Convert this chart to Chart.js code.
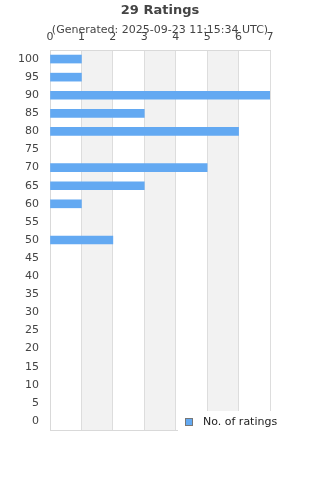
<!DOCTYPE html>
<html>
<head>
<meta charset="utf-8">
<script src="https://cdn.jsdelivr.net/npm/chart.js@4"></script>
<style>
  html, body { margin: 0; padding: 0; background: #fff; }
  #wrap { width: 320px; height: 480px; }
</style>
</head>
<body>
<div id="wrap"><canvas id="ratings"></canvas></div>
<script>
let scores = ['100', '95', '90', '85', '80', '75', '70', '65', '60', '55', '50',
              '45', '40', '35', '30', '25', '20', '15', '10', '5', '0'];
let counts = [1, 1, 7, 3, 6, 0, 5, 3, 1, 0, 2, 0, 0, 0, 0, 0, 0, 0, 0, 0, 0];
let seriesName = 'No. of ratings';
let titleText = '29 Ratings';
let subtitleText = '(Generated: 2025-09-23 11:15:34 UTC)';

Chart.defaults.font.family = "'DejaVu Sans', sans-serif";
Chart.defaults.color = '#444';

// grey bands between every other x tick, plus the frame
const bands = {
    id: 'bands',
    beforeDraw(chart) {
        let ctx = chart.ctx;
        let area = chart.chartArea;
        let x = chart.scales.x;
        ctx.save();
        ctx.fillStyle = '#f2f2f2';
        for (let v = 1; v < x.max; v += 2) {
            let a = x.getPixelForValue(v);
            let b = x.getPixelForValue(v + 1);
            ctx.fillRect(a, area.top, b - a, area.bottom - area.top);
        }
        ctx.restore();
    },
    afterDraw(chart) {
        let ctx = chart.ctx;
        let area = chart.chartArea;
        ctx.save();
        ctx.strokeStyle = '#d9d9d9';
        ctx.lineWidth = 1;
        ctx.beginPath();
        ctx.moveTo(area.left, area.bottom + 0.5);
        ctx.lineTo(area.right, area.bottom + 0.5);
        ctx.stroke();

        // legend sitting over the lower right corner
        ctx.fillStyle = '#fff';
        ctx.fillRect(178, 411, 142, 69);
        ctx.fillStyle = '#63a9f2';
        ctx.fillRect(185.5, 418.5, 7, 7);
        ctx.strokeStyle = '#777';
        ctx.strokeRect(185.5, 418.5, 7, 7);
        ctx.fillStyle = '#222';
        ctx.font = "11px 'DejaVu Sans', sans-serif";
        ctx.textBaseline = 'middle';
        ctx.fillText(seriesName, 203, 422);
        ctx.restore();
    }
};

new Chart(document.getElementById('ratings'), {
    type: 'bar',
    data: {
        labels: scores,
        datasets: [{
            label: seriesName,
            data: counts,
            backgroundColor: c => c.raw ? '#63a9f2' : 'rgba(0,0,0,0)',
            barThickness: 8
        }]
    },
    options: {
        indexAxis: 'y',
        responsive: true,
        maintainAspectRatio: false,
        animation: false,
        layout: { padding: { left: 0, right: 0, top: 0, bottom: 50 } },
        plugins: {
            legend: { display: false },
            tooltip: { enabled: false },
            title: {
                display: true,
                text: titleText,
                color: '#444',
                font: { size: 13, weight: 'bold' },
                padding: { top: 3, bottom: 2 }
            },
            subtitle: {
                display: true,
                text: subtitleText,
                color: '#444',
                font: { size: 11 },
                padding: { top: 3, bottom: -8 }
            }
        },
        scales: {
            x: {
                position: 'top',
                min: 0,
                max: 7,
                ticks: { stepSize: 1, padding: 6, font: { size: 11 }, color: '#444' },
                grid: { color: '#dddddd', drawTicks: false },
                border: { color: '#d9d9d9' },
                afterFit(scale) { scale.height = 21.2; }
            },
            y: {
                ticks: { padding: 11, font: { size: 11 }, color: '#444', autoSkip: false },
                grid: { display: false, drawTicks: false },
                border: { color: '#d9d9d9' },
                afterFit(scale) { scale.width = 50; }
            },
            // empty right-hand axis, keeps the plot centred under the title
            yRight: {
                type: 'category',
                position: 'right',
                labels: scores,
                ticks: { display: false },
                grid: { display: false, drawTicks: false },
                border: { display: false },
                afterFit(scale) { scale.width = 50; }
            }
        }
    },
    plugins: [bands]
});
</script>
</body>
</html>
